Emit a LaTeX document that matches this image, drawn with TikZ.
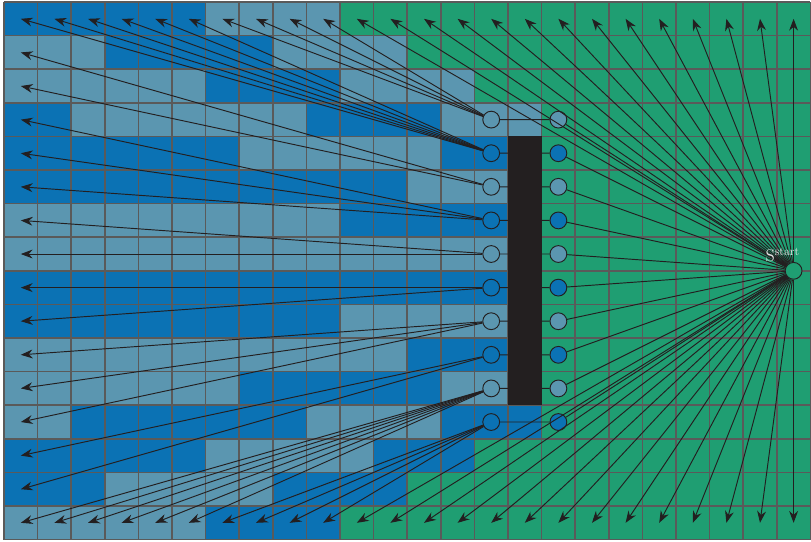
\documentclass[tikz,border=0pt]{standalone}
\usetikzlibrary{arrows.meta,calc}
\definecolor{dkblue}{HTML}{0B72B4}
\definecolor{ltblue}{HTML}{5B96B0}
\definecolor{grn}{HTML}{1F9E72}
\definecolor{ink}{HTML}{231F20}
\definecolor{gridgray}{HTML}{5A5A5A}

\begin{document}
\begin{tikzpicture}[x = 1cm, y = -1cm,
	cell/.style = {circle, draw = ink, line width = 0.8pt, minimum size = 0.5cm, inner sep = 0pt},
	link/.style = {draw = ink, line width = 0.8pt},
	ray/.style = {link, -{Stealth[length = 10pt, width = 7.5pt]}}]
	\useasboundingbox (-0.119,-0.06) rectangle (24.018,16.07);
	\fill[grn] (0,0) rectangle (24,16);
	\foreach \r/\g in {0/10,1/12,2/14,3/16,4/16,5/16,6/16,7/16,8/16,9/16,10/16,11/16,12/16,13/14,14/12,15/10}
		\fill[ltblue] (0,\r) rectangle (\g,\r+1);
	\foreach \r/\a/\b in {0/0/5,1/3/7,2/6/9,3/0/1,3/9/12,4/0/6,4/13/14,5/0/11,6/10/14,8/0/14,9/0/9,10/12/14,11/7/12,12/2/8,12/13/15,13/0/5,13/11/13,14/0/2,14/8/11,15/6/9}
		\fill[dkblue] (\a,\r) rectangle (\b+1,\r+1);
	\draw[gridgray, line width = 1.3pt] (0,0) grid (24,16);
	\fill[ink] (15,4) rectangle (16,12);
	
	\foreach \c in {0,...,23} {\coordinate (t\c) at (\c+0.5,0.5); \coordinate (b\c) at (\c+0.5,15.5);}
	\foreach \r in {1,...,14} \coordinate (l\r) at (0.5,\r+0.5);
	\foreach \r/\f in {3/ltblue,4/dkblue,5/ltblue,6/dkblue,7/ltblue,8/dkblue,9/ltblue,10/dkblue,11/ltblue,12/dkblue} {
		\node[cell] (L\r) at (14.5,\r+0.5) {};
		\node[cell, fill = \f] (R\r) at (16.5,\r+0.5) {};
	}
	\node[cell, fill = grn] (S) at (23.5,8) {};
	
	\foreach \r in {3,...,12} \draw[link] (L\r) -- (R\r) (R\r) -- (S);
	\foreach \c in {10,...,23} \draw[ray] (S) -- (t\c);
	\foreach \c in {10,...,23} \draw[ray] (S) -- (b\c);
	\foreach \c in {6,...,9} \draw[ray] (L3) -- (t\c);
	\foreach \c in {0,...,5} \draw[ray] (L4) -- (t\c);
	\foreach \s/\r in {5/1,5/2,6/3,6/4,6/5,7/6,7/7,8/8,8/9,9/10,9/11,9/12,10/13,10/14} \draw[ray] (L\s) -- (l\r);
	\foreach \c in {0,...,5} \draw[ray] (L11) -- (b\c);
	\foreach \c in {6,...,9} \draw[ray] (L12) -- (b\c);
	
	\node[anchor = base east, inner sep = 0pt, text = black!10] (Slab) at ($(S.north)+(0.19,0)$) {\Large S\textsuperscript{start}};
\end{tikzpicture}
\end{document}
